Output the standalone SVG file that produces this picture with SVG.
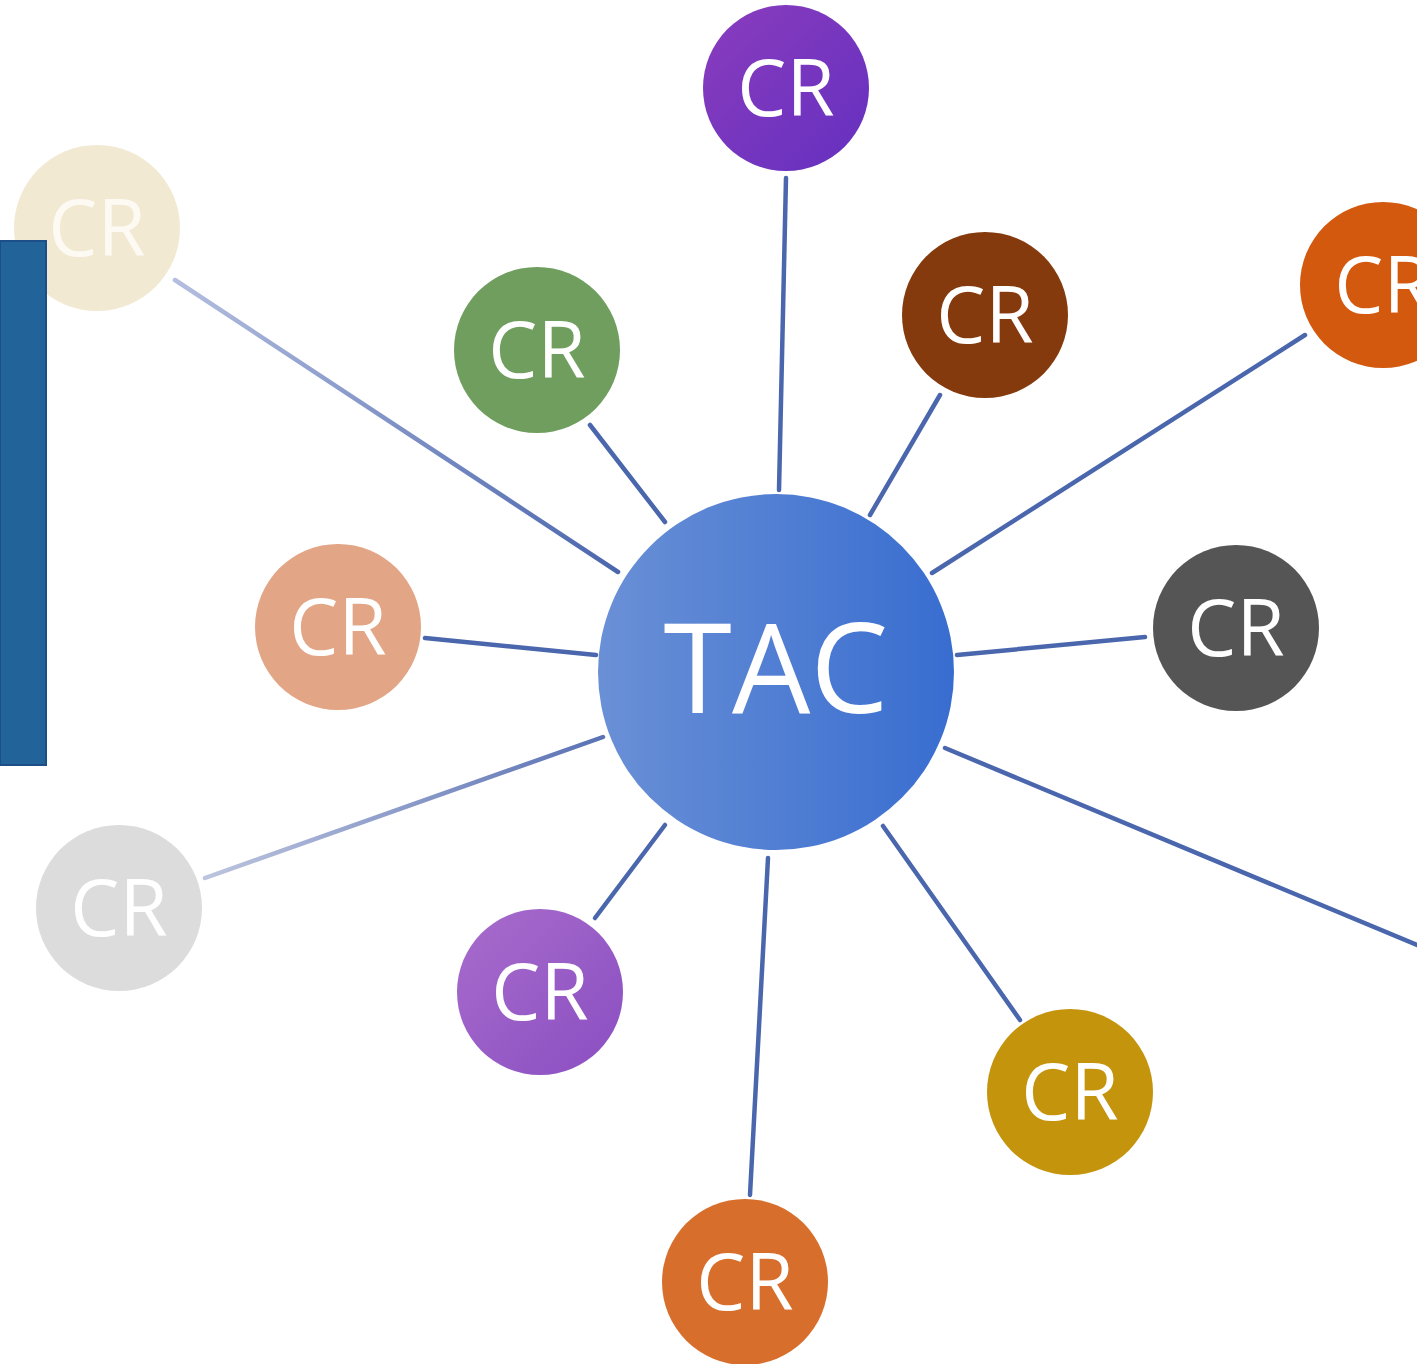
<svg xmlns="http://www.w3.org/2000/svg" width="1417" height="1364" viewBox="0 0 1417 1364">
<defs>
<style>
.cr{font-family:"Open Sans","Noto Sans",sans-serif;font-size:78px;fill:#ffffff;text-anchor:middle;}
.tac{font-family:"Open Sans","Noto Sans",sans-serif;font-size:124px;fill:#ffffff;text-anchor:middle;}
.ln{stroke:#4a66ad;stroke-width:4.5;stroke-linecap:round;fill:none;}
</style>
<linearGradient id="gTac" x1="0" y1="0" x2="1" y2="0"><stop offset="0" stop-color="#6a90d6"/><stop offset="1" stop-color="#386dd0"/></linearGradient>
<linearGradient id="gPur1" x1="0" y1="0" x2="1" y2="1"><stop offset="0" stop-color="#8a3cbd"/><stop offset="1" stop-color="#6430c0"/></linearGradient>
<linearGradient id="gPur2" x1="0" y1="0" x2="1" y2="1"><stop offset="0" stop-color="#a86ccc"/><stop offset="1" stop-color="#8a4ec2"/></linearGradient>
<linearGradient id="gL1" gradientUnits="userSpaceOnUse" x1="175" y1="280" x2="618" y2="572"><stop offset="0" stop-color="#b4bedf"/><stop offset="1" stop-color="#4a66ad"/></linearGradient>
<linearGradient id="gL2" gradientUnits="userSpaceOnUse" x1="205" y1="878" x2="603" y2="737"><stop offset="0" stop-color="#bcc4de"/><stop offset="1" stop-color="#5a72b4"/></linearGradient>
</defs>
<rect width="1417" height="1364" fill="#ffffff"/>
<g id="connectors">
<line class="ln" x1="786" y1="178" x2="779" y2="490"/>
<line class="ln" style="stroke:url(#gL1)" x1="175" y1="280" x2="618" y2="572"/>
<line class="ln" x1="590" y1="425" x2="665" y2="522"/>
<line class="ln" x1="940" y1="395" x2="870" y2="515"/>
<line class="ln" x1="1305" y1="335" x2="932" y2="573"/>
<line class="ln" x1="425" y1="638" x2="596" y2="655"/>
<line class="ln" x1="1145" y1="637" x2="957" y2="655"/>
<line class="ln" style="stroke:url(#gL2)" x1="205" y1="878" x2="603" y2="737"/>
<line class="ln" x1="945" y1="748" x2="1417" y2="945"/>
<line class="ln" x1="595" y1="918" x2="665" y2="825"/>
<line class="ln" x1="1020" y1="1020" x2="883" y2="826"/>
<line class="ln" x1="768" y1="858" x2="750" y2="1195"/>
</g>
<g id="cr-cream"><circle cx="97" cy="228" r="83" fill="#f2e9d2"/><text class="cr" x="97" y="256" style="fill:#fdfaf3">CR</text></g>
<g id="panel"><rect x="0" y="241" width="46" height="524" fill="#22639a" stroke="#1c4f88" stroke-width="2"/></g>
<g id="cr-purple-top"><circle cx="786" cy="88" r="83" fill="url(#gPur1)"/><text class="cr" x="786" y="116">CR</text></g>
<g id="cr-green"><circle cx="537" cy="350" r="83" fill="#6f9e5f"/><text class="cr" x="537" y="378">CR</text></g>
<g id="cr-brown"><circle cx="985" cy="315" r="83" fill="#853a0e"/><text class="cr" x="985" y="343">CR</text></g>
<g id="cr-orange-right"><circle cx="1383" cy="285" r="83" fill="#d3590f"/><text class="cr" x="1383" y="313">CR</text></g>
<g id="cr-peach"><circle cx="338" cy="627" r="83" fill="#e2a585"/><text class="cr" x="338" y="655">CR</text></g>
<g id="cr-darkgray"><circle cx="1236" cy="628" r="83" fill="#555555"/><text class="cr" x="1236" y="656">CR</text></g>
<g id="cr-lightgray"><circle cx="119" cy="908" r="83" fill="#dcdcdc"/><text class="cr" x="119" y="936">CR</text></g>
<g id="cr-purple-low"><circle cx="540" cy="992" r="83" fill="url(#gPur2)"/><text class="cr" x="540" y="1020">CR</text></g>
<g id="cr-gold"><circle cx="1070" cy="1092" r="83" fill="#c4940c"/><text class="cr" x="1070" y="1120">CR</text></g>
<g id="cr-orange-bottom"><circle cx="745" cy="1282" r="83" fill="#d86e2c"/><text class="cr" x="745" y="1310">CR</text></g>
<g id="tac"><circle cx="776" cy="672" r="178" fill="url(#gTac)"/><text class="tac" x="776" y="713">TAC</text></g>
</svg>
